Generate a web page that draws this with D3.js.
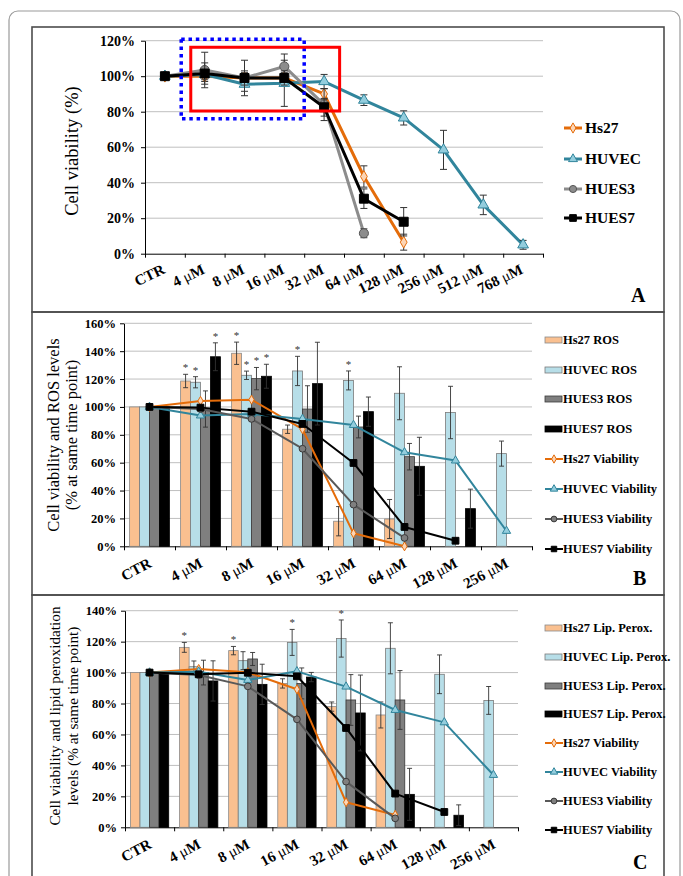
<!DOCTYPE html>
<html lang="en">
<head>
<meta charset="utf-8">
<script src="https://cdn.jsdelivr.net/npm/d3@7"></script>
<style>
  body { margin: 0; background: #fff; }
  text { font-family: "Liberation Serif", "Times New Roman", serif; }
</style>
</head>
<body>
<svg id="fig" width="683" height="876"></svg>
<script>
// ---- panel A : viability only
var catsA = ["CTR", "4 μM", "8 μM", "16 μM", "32 μM", "64 μM", "128 μM", "256 μM", "512 μM", "768 μM"];
var aHs27 = [100, 100, 99, 99, 90, 43.5, 6.5];
var aHs27Err = [0, 3, 3, 3, 3, 6, 4.5];
var aHuvec = [100, 101, 95.5, 96, 97, 86.5, 76.5, 58.5, 27.5, 5];
var aHuvecErr = [0, 3, 4, 13, 4, 3, 4, 11, 5.5, 2.5];
var aHues3 = [100, 103.5, 99, 105.5, 84, 11.5];
var aHues3Err = [0, 10, 4, 7, 9, 2.5];
var aHues7 = [100, 101.5, 99, 99, 82.5, 31, 18];
var aHues7Err = [0, 6, 10, 4, 5, 5.5, 8];
// highlight boxes [x0, x1, yLow, yHigh] in category-index / percent units
var redBox = [1.15, 4.89, 80.4, 116.3];
var blueBox = [0.91, 4.0, 76, 120.8];

// ---- panel B : ROS bars + viability
var catsB = ["CTR", "4 μM", "8 μM", "16 μM", "32 μM", "64 μM", "128 μM", "256 μM"];
var bRosHs27 = [100, 118.6, 138.5, 84, 18, 19.6, null, null];
var bRosHs27Err = [0, 4.8, 8, 3, 10.5, 14, 0, 0];
var bRosHuvec = [100, 117.7, 122.7, 125.8, 119, 109.8, 96, 66.5];
var bRosHuvecErr = [0, 4, 3, 10.5, 6.8, 19, 18.8, 9];
var bRosHues3 = [100, 98.5, 120.3, 98.5, 85.6, 64.3, null, null];
var bRosHues3Err = [0, 13, 8, 16.7, 7.8, 9.5, 0, 0];
var bRosHues7 = [100, 136, 122, 116.7, 96.6, 57.4, 27, null];
var bRosHues7Err = [0, 10, 8.6, 29.7, 10.5, 20.8, 14, 0];
var bStarHs27 = [0, 1, 1, 0, 0, 0, 0, 0];
var bStarHuvec = [0, 1, 1, 1, 1, 0, 0, 0];
var bStarHues3 = [0, 0, 1, 0, 0, 0, 0, 0];
var bStarHues7 = [0, 1, 1, 0, 0, 0, 0, 0];
var bViaHs27 = [100, 104.3, 105.2, 84, 9.3, 0];
var bViaHuvec = [100, 93.8, 95, 91.4, 87, 67.4, 61.5, 11];
var bViaHues3 = [100, 98.5, 91.4, 70, 29.9, 6];
var bViaHues7 = [100, 99.5, 96.6, 87.8, 59.8, 13.9, 4];

// ---- panel C : lipid peroxidation bars + viability
var catsC = ["CTR", "4 μM", "8 μM", "16 μM", "32 μM", "64 μM", "128 μM", "256 μM"];
var cLpHs27 = [100, 116.3, 114.2, 93, 78, 72.6, null, null];
var cLpHs27Err = [0, 3.2, 2.7, 3, 3, 8.4, 0, 0];
var cLpHuvec = [100, 103.8, 107.7, 119.5, 122, 115.7, 98.9, 82];
var cLpHuvecErr = [0, 3.7, 5.8, 8.4, 12, 16.5, 12.5, 9];
var cLpHues3 = [100, 100, 108.8, 93, 82.3, 82.3, null, null];
var cLpHues3Err = [0, 8, 4.2, 10, 16.4, 19, 0, 0];
var cLpHues7 = [100, 94.6, 92.4, 97.1, 73.9, 21.3, 7.8, null];
var cLpHues7Err = [0, 13, 13, 3, 24.5, 16.8, 6.7, 0];
var cStarHs27 = [0, 1, 1, 0, 0, 0, 0, 0];
var cStarHuvec = [0, 0, 0, 1, 1, 0, 0, 0];
var cViaHs27 = [100, 102.3, 100.2, 89.2, 16.2, 8];
var cViaHuvec = [100, 100.6, 95.2, 100.8, 90.9, 75.8, 67.8, 33.8];
var cViaHues3 = [100, 98.4, 91.1, 69.8, 29.5, 5.8];
var cViaHues7 = [100, 98.9, 99.9, 97.6, 64.2, 21.8, 9.9];

var serif = '"Liberation Serif", "Times New Roman", serif';
var svg = d3.select("#fig");

// outer rounded frame + panel boxes
svg.append("rect").attr("x", 9).attr("y", 11).attr("width", 671).attr("height", 880).attr("rx", 9)
  .attr("fill", "none").attr("stroke", "#9a9a9a").attr("stroke-width", 1.2);
[[27, 285], [312, 283], [595, 300]].forEach(function (b) {
  svg.append("rect").attr("x", 32).attr("y", b[0]).attr("width", 632).attr("height", b[1])
    .attr("fill", "none").attr("stroke", "#4d4d4d").attr("stroke-width", 1.6);
});

// series styles
var sty = {
  hs27: { line: "#E46C0A", sym: d3.symbolDiamond, fill: "#FCD5B5", stroke: "#E46C0A", bar: "#FAC090", barStroke: "#8a8a8a" },
  huvec: { line: "#31859C", sym: d3.symbolTriangle, fill: "#93CDDD", stroke: "#31859C", bar: "#B7DEE8", barStroke: "#7a7a7a" },
  hues3: { line: "#595959", sym: d3.symbolCircle, fill: "#7F7F7F", stroke: "#3a3a3a", bar: "#7F7F7F", barStroke: "#3a3a3a" },
  hues7: { line: "#000000", sym: d3.symbolSquare, fill: "#000000", stroke: "#000000", bar: "#000000", barStroke: "#000000" }
};

function makePanel(cfg) {
  var g = svg.append("g");
  var x = d3.scaleBand().domain(cfg.cats).range([cfg.left, cfg.right]);
  var xi = d3.scaleLinear().domain([0, cfg.cats.length]).range([cfg.left, cfg.right]);
  var y = d3.scaleLinear().domain([0, cfg.ymax]).range([cfg.bottom, cfg.top]);
  var ticks = d3.range(0, cfg.ymax + 1, 20);

  g.selectAll(".grid").data(ticks.filter(function (t) { return t > 0; })).join("line")
    .attr("x1", cfg.left).attr("x2", cfg.right)
    .attr("y1", function (d) { return y(d); }).attr("y2", function (d) { return y(d); })
    .attr("stroke", "#BFBFBF").attr("stroke-width", 1);

  var ya = g.append("g").attr("transform", "translate(" + cfg.left + ",0)")
    .call(d3.axisLeft(y).tickValues(ticks).tickFormat(function (d) { return d + "%"; })
      .tickSize(4).tickSizeOuter(0).tickPadding(cfg.pad));
  ya.attr("font-family", serif).attr("font-size", cfg.tickFont).attr("font-weight", "bold");

  var xa = g.append("g").attr("transform", "translate(0," + cfg.bottom + ")")
    .call(d3.axisBottom(xi).tickValues(d3.range(cfg.cats.length + 1)).tickFormat("")
      .tickSize(4).tickSizeOuter(0));
  xa.selectAll("path, line").attr("stroke", "#000");
  ya.selectAll("path, line").attr("stroke", "#000");

  var lab = g.selectAll(".xl").data(cfg.cats).join("text")
    .attr("transform", function (d) {
      return "translate(" + (x(d) + x.bandwidth() / 2 + cfg.ldx) + "," + (cfg.bottom + cfg.ldy) + ") rotate(" + cfg.rot + ")";
    })
    .attr("text-anchor", "end").attr("font-size", cfg.labFont).attr("font-weight", "bold");
  lab.each(function (d) {
    var t = d3.select(this);
    var k = d.indexOf("μ");
    if (k < 0) { t.text(d); return; }
    t.append("tspan").text(d.slice(0, k));
    t.append("tspan").attr("font-weight", "normal").text("μ");
    t.append("tspan").text(d.slice(k + 1));
  });

  return { g: g, x: x, xi: xi, y: y, cats: cfg.cats, cfg: cfg };
}

function errBar(g, cx, y, v, e, cap, w) {
  if (!e) return;
  g.append("line").attr("x1", cx).attr("x2", cx).attr("y1", y(v - e)).attr("y2", y(v + e))
    .attr("stroke", "#333").attr("stroke-width", w);
  [v - e, v + e].forEach(function (t) {
    g.append("line").attr("x1", cx - cap).attr("x2", cx + cap).attr("y1", y(t)).attr("y2", y(t))
      .attr("stroke", "#333").attr("stroke-width", w);
  });
}

function drawLine(p, vals, errs, s, lw, msize, capW) {
  var pts = [];
  vals.forEach(function (v, i) {
    if (v != null) pts.push({ v: v, e: errs ? errs[i] : 0, cx: p.x(p.cats[i]) + p.x.bandwidth() / 2 });
  });
  p.g.append("path").datum(pts)
    .attr("d", d3.line().x(function (d) { return d.cx; }).y(function (d) { return p.y(d.v); }))
    .attr("fill", "none").attr("stroke", s.line).attr("stroke-width", lw).attr("stroke-linejoin", "round");
  return function () {
    pts.forEach(function (d) { errBar(p.g, d.cx, p.y, d.v, d.e, capW, 1); });
    p.g.selectAll(null).data(pts).join("path")
      .attr("transform", function (d) { return "translate(" + d.cx + "," + p.y(d.v) + ")"; })
      .attr("d", d3.symbol().type(s.sym).size(s.sym === d3.symbolSquare ? msize * 1.15 : msize))
      .attr("fill", s.fill).attr("stroke", s.stroke).attr("stroke-width", 1);
  };
}

function drawBars(p, sets) {
  var x0 = d3.scaleBand().domain(p.cats).range([p.cfg.left, p.cfg.right]).paddingInner(0.22).paddingOuter(0.11);
  var x1 = d3.scaleBand().domain(d3.range(sets.length)).range([0, x0.bandwidth()]);
  sets.forEach(function (set, k) {
    set.vals.forEach(function (v, i) {
      if (v == null) return;
      var bx = x0(p.cats[i]) + x1(k);
      p.g.append("rect").attr("x", bx).attr("y", p.y(v)).attr("width", x1.bandwidth())
        .attr("height", p.y(0) - p.y(v)).attr("fill", set.s.bar).attr("stroke", set.s.barStroke).attr("stroke-width", 0.8);
    });
  });
  sets.forEach(function (set, k) {
    set.vals.forEach(function (v, i) {
      if (v == null) return;
      var cx = x0(p.cats[i]) + x1(k) + x1.bandwidth() / 2;
      errBar(p.g, cx, p.y, v, set.errs[i], 2.5, 0.9);
      if (set.stars && set.stars[i]) {
        p.g.append("text").attr("x", cx).attr("y", p.y(v + set.errs[i]) - 3).attr("text-anchor", "middle")
          .attr("font-size", 11).attr("fill", "#333").text("*");
      }
    });
  });
}

function legend(items, x0, tx, fs) {
  items.forEach(function (it) {
    var g = svg.append("g");
    if (it.type === "bar") {
      g.append("rect").attr("x", x0).attr("y", it.y - 3).attr("width", 17).attr("height", 6)
        .attr("fill", it.s.bar).attr("stroke", it.s.barStroke).attr("stroke-width", 0.8);
    } else {
      g.append("line").attr("x1", x0).attr("x2", x0 + 18).attr("y1", it.y).attr("y2", it.y)
        .attr("stroke", it.s.line).attr("stroke-width", it.lw);
      g.append("path").attr("transform", "translate(" + (x0 + 9) + "," + it.y + ")")
        .attr("d", d3.symbol().type(it.s.sym).size(it.ms)).attr("fill", it.s.fill).attr("stroke", it.s.stroke);
    }
    g.append("text").attr("x", tx).attr("y", it.y + fs * 0.35).attr("font-size", fs).attr("font-weight", "bold").text(it.label);
  });
}

function yTitle(lines, x, yc, fs, gap) {
  lines.forEach(function (l, i) {
    svg.append("text").attr("transform", "translate(" + (x + i * gap) + "," + yc + ") rotate(-90)")
      .attr("text-anchor", "middle").attr("font-size", fs).text(l);
  });
}

// ================= Panel A
var pA = makePanel({ cats: catsA, left: 145, right: 543, top: 40.7, bottom: 253.7, ymax: 120,
  tickFont: 14, labFont: 15, pad: 6, rot: -26, ldx: 1, ldy: 19 });
var styA3 = Object.assign({}, sty.hues3, { line: "#8C8C8C", fill: "#8C8C8C", stroke: "#555" });
var mA = [
  drawLine(pA, aHs27, aHs27Err, sty.hs27, 3, 40, 3.5),
  drawLine(pA, aHuvec, aHuvecErr, sty.huvec, 3, 50, 3.5),
  drawLine(pA, aHues3, aHues3Err, styA3, 3, 65, 3.5),
  drawLine(pA, aHues7, aHues7Err, sty.hues7, 3, 70, 3.5)
];
mA.forEach(function (f) { f(); });
pA.g.append("rect").attr("x", pA.xi(blueBox[0])).attr("y", pA.y(blueBox[3]))
  .attr("width", pA.xi(blueBox[1]) - pA.xi(blueBox[0])).attr("height", pA.y(blueBox[2]) - pA.y(blueBox[3]))
  .attr("fill", "none").attr("stroke", "#0000FF").attr("stroke-width", 3.5).attr("stroke-dasharray", "3.5,3.8");
pA.g.append("rect").attr("x", pA.xi(redBox[0])).attr("y", pA.y(redBox[3]))
  .attr("width", pA.xi(redBox[1]) - pA.xi(redBox[0])).attr("height", pA.y(redBox[2]) - pA.y(redBox[3]))
  .attr("fill", "none").attr("stroke", "#FF0000").attr("stroke-width", 3);
legend([
  { label: "Hs27", s: sty.hs27, y: 128, lw: 3, ms: 30 },
  { label: "HUVEC", s: sty.huvec, y: 159, lw: 3, ms: 35 },
  { label: "HUES3", s: styA3, y: 189, lw: 3, ms: 40 },
  { label: "HUES7", s: sty.hues7, y: 218, lw: 3, ms: 45 }
], 564, 585, 15.5);
yTitle(["Cell viability (%)"], 78, 151, 18.5, 0);
svg.append("text").attr("x", 631).attr("y", 302).attr("font-size", 20).attr("font-weight", "bold").text("A");

// ================= Panel B
var pB = makePanel({ cats: catsB, left: 124, right: 532, top: 323.3, bottom: 546.3, ymax: 160,
  tickFont: 12.5, labFont: 15, pad: 4, rot: -28, ldx: 3, ldy: 20 });
drawBars(pB, [
  { vals: bRosHs27, errs: bRosHs27Err, stars: bStarHs27, s: sty.hs27 },
  { vals: bRosHuvec, errs: bRosHuvecErr, stars: bStarHuvec, s: sty.huvec },
  { vals: bRosHues3, errs: bRosHues3Err, stars: bStarHues3, s: sty.hues3 },
  { vals: bRosHues7, errs: bRosHues7Err, stars: bStarHues7, s: sty.hues7 }
]);
[
  drawLine(pB, bViaHs27, null, sty.hs27, 2, 24, 3),
  drawLine(pB, bViaHuvec, null, sty.huvec, 2, 30, 3),
  drawLine(pB, bViaHues3, null, sty.hues3, 2, 36, 3),
  drawLine(pB, bViaHues7, null, sty.hues7, 2, 40, 3)
].forEach(function (f) { f(); });
legend([
  { type: "bar", label: "Hs27 ROS", s: sty.hs27, y: 340 },
  { type: "bar", label: "HUVEC ROS", s: sty.huvec, y: 370 },
  { type: "bar", label: "HUES3 ROS", s: sty.hues3, y: 399 },
  { type: "bar", label: "HUES7 ROS", s: sty.hues7, y: 429 },
  { label: "Hs27 Viability", s: sty.hs27, y: 459, lw: 2, ms: 20 },
  { label: "HUVEC Viability", s: sty.huvec, y: 489, lw: 2, ms: 24 },
  { label: "HUES3 Viability", s: sty.hues3, y: 519, lw: 2, ms: 26 },
  { label: "HUES7 Viability", s: sty.hues7, y: 549, lw: 2, ms: 30 }
], 545, 563, 12.5);
yTitle(["Cell viability and ROS levels", "(% at same time point)"], 59, 435, 16.5, 18);
svg.append("text").attr("x", 633).attr("y", 585).attr("font-size", 20).attr("font-weight", "bold").text("B");

// ================= Panel C
var pC = makePanel({ cats: catsC, left: 125, right: 518, top: 610.7, bottom: 827.3, ymax: 140,
  tickFont: 12.5, labFont: 15, pad: 4, rot: -28, ldx: 3, ldy: 20 });
drawBars(pC, [
  { vals: cLpHs27, errs: cLpHs27Err, stars: cStarHs27, s: sty.hs27 },
  { vals: cLpHuvec, errs: cLpHuvecErr, stars: cStarHuvec, s: sty.huvec },
  { vals: cLpHues3, errs: cLpHues3Err, s: sty.hues3 },
  { vals: cLpHues7, errs: cLpHues7Err, s: sty.hues7 }
]);
[
  drawLine(pC, cViaHs27, null, sty.hs27, 2, 24, 3),
  drawLine(pC, cViaHuvec, null, sty.huvec, 2, 30, 3),
  drawLine(pC, cViaHues3, null, sty.hues3, 2, 36, 3),
  drawLine(pC, cViaHues7, null, sty.hues7, 2, 40, 3)
].forEach(function (f) { f(); });
legend([
  { type: "bar", label: "Hs27 Lip. Perox.", s: sty.hs27, y: 628 },
  { type: "bar", label: "HUVEC Lip. Perox.", s: sty.huvec, y: 657 },
  { type: "bar", label: "HUES3 Lip. Perox.", s: sty.hues3, y: 686 },
  { type: "bar", label: "HUES7 Lip. Perox.", s: sty.hues7, y: 714 },
  { label: "Hs27 Viability", s: sty.hs27, y: 743, lw: 2, ms: 20 },
  { label: "HUVEC Viability", s: sty.huvec, y: 772, lw: 2, ms: 24 },
  { label: "HUES3 Viability", s: sty.hues3, y: 801, lw: 2, ms: 26 },
  { label: "HUES7 Viability", s: sty.hues7, y: 830, lw: 2, ms: 30 }
], 545, 563, 12.5);
yTitle(["Cell viability and lipid peroxidation", "levels (% at same time point)"], 60, 716, 15.3, 18);
svg.append("text").attr("x", 633).attr("y", 869).attr("font-size", 20).attr("font-weight", "bold").text("C");
</script>
</body>
</html>
